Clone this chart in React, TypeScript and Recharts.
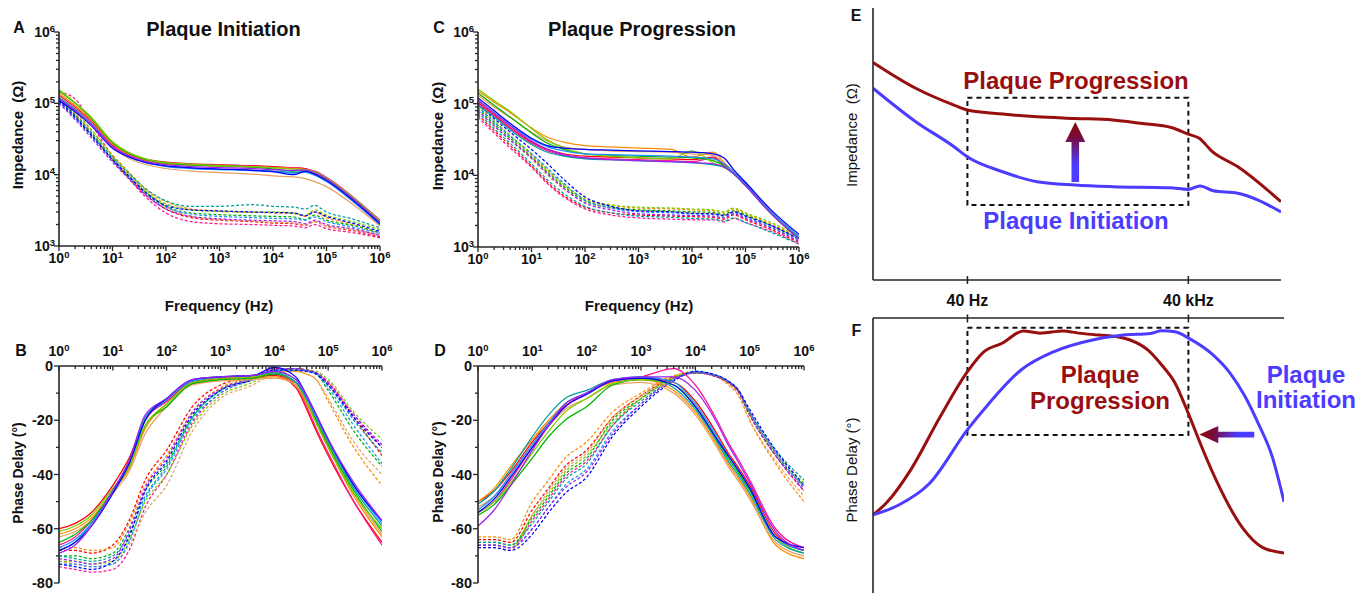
import React from 'react';
import { LineChart, Line, XAxis, YAxis, ReferenceArea, ReferenceLine } from 'recharts';

// ---------- shared ----------
const FREQ = [1, 2, 4, 10, 20, 40, 100, 300, 1000, 4000, 10000, 25000, 40000, 60000, 100000, 300000, 1000000];
const COLORS = ['#ff0000', '#ff1493', '#ff8c00', '#e8a060', '#00b400', '#7acc00', '#00a0a0', '#1e90ff', '#0000ff', '#a020f0'];
const TITLES = ['Plaque Initiation', 'Plaque Progression'];

// ---------- Panel A: impedance, plaque initiation (Ω) ----------
const A_IMP_SOLID = [
  [1.30e5, 8.8e4, 5.6e4, 2.6e4, 1.95e4, 1.65e4, 1.5e4, 1.42e4, 1.38e4, 1.34e4, 1.3e4, 1.25e4, 1.22e4, 1.1e4, 9.0e3, 4.8e3, 2.2e3],
  [1.28e5, 8.7e4, 5.5e4, 2.55e4, 1.9e4, 1.6e4, 1.48e4, 1.4e4, 1.36e4, 1.32e4, 1.28e4, 1.24e4, 1.2e4, 1.12e4, 9.2e3, 5.0e3, 2.3e3],
  [1.40e5, 9.3e4, 5.9e4, 2.7e4, 1.9e4, 1.58e4, 1.42e4, 1.36e4, 1.32e4, 1.28e4, 1.25e4, 1.22e4, 1.18e4, 1.05e4, 8.6e3, 4.5e3, 2.1e3],
  [1.25e5, 8.4e4, 5.3e4, 2.4e4, 1.7e4, 1.4e4, 1.22e4, 1.12e4, 1.07e4, 1.02e4, 9.6e3, 9.3e3, 8.8e3, 8.0e3, 6.8e3, 3.9e3, 1.9e3],
  [1.50e5, 1.0e5, 6.2e4, 2.8e4, 2.0e4, 1.65e4, 1.45e4, 1.37e4, 1.33e4, 1.28e4, 1.2e4, 1.12e4, 1.15e4, 1.08e4, 8.8e3, 4.7e3, 2.15e3],
  [1.55e5, 1.02e5, 6.4e4, 2.9e4, 2.05e4, 1.68e4, 1.48e4, 1.4e4, 1.35e4, 1.3e4, 1.25e4, 1.2e4, 1.18e4, 1.1e4, 9.0e3, 4.9e3, 2.25e3],
  [1.20e5, 8.2e4, 5.2e4, 2.45e4, 1.8e4, 1.5e4, 1.32e4, 1.25e4, 1.2e4, 1.16e4, 1.12e4, 1.08e4, 1.1e4, 1.0e4, 8.2e3, 4.4e3, 2.0e3],
  [1.18e5, 8.0e4, 5.1e4, 2.4e4, 1.78e4, 1.48e4, 1.3e4, 1.22e4, 1.18e4, 1.14e4, 1.1e4, 1.05e4, 1.08e4, 9.8e3, 8.0e3, 4.3e3, 2.0e3],
  [1.10e5, 7.6e4, 4.9e4, 2.35e4, 1.78e4, 1.5e4, 1.33e4, 1.25e4, 1.2e4, 1.15e4, 1.1e4, 1.0e4, 1.12e4, 1.02e4, 8.3e3, 4.5e3, 2.05e3],
  [1.15e5, 7.9e4, 5.0e4, 2.45e4, 1.85e4, 1.55e4, 1.38e4, 1.3e4, 1.26e4, 1.22e4, 1.18e4, 1.15e4, 1.16e4, 1.06e4, 8.7e3, 4.7e3, 2.15e3],
];
const A_IMP_DASHED = [
  [1.15e5, 6.8e4, 3.8e4, 1.6e4, 9.0e3, 5.4e3, 3.3e3, 2.5e3, 2.3e3, 2.2e3, 2.1e3, 2.05e3, 1.95e3, 2.2e3, 1.9e3, 1.65e3, 1.35e3],
  [1.45e5, 1.15e5, 5.2e4, 1.8e4, 9.0e3, 5.0e3, 2.9e3, 2.2e3, 2.05e3, 2.0e3, 1.95e3, 1.9e3, 1.8e3, 2.0e3, 1.75e3, 1.55e3, 1.3e3],
  [1.25e5, 7.5e4, 4.2e4, 1.9e4, 1.1e4, 6.5e3, 4.2e3, 3.3e3, 3.1e3, 3.0e3, 2.9e3, 2.85e3, 2.6e3, 3.0e3, 2.5e3, 2.0e3, 1.5e3],
  [1.2e5, 7.2e4, 4.0e4, 1.75e4, 1.0e4, 6.0e3, 3.6e3, 2.6e3, 2.35e3, 2.25e3, 2.15e3, 2.1e3, 1.95e3, 2.2e3, 1.9e3, 1.7e3, 1.45e3],
  [1.12e5, 6.6e4, 3.7e4, 1.65e4, 9.5e3, 5.8e3, 3.6e3, 2.9e3, 2.75e3, 2.65e3, 2.6e3, 2.55e3, 2.35e3, 2.7e3, 2.3e3, 1.95e3, 1.55e3],
  [1.3e5, 7.8e4, 4.3e4, 1.85e4, 1.05e4, 6.2e3, 3.9e3, 3.2e3, 3.05e3, 2.95e3, 3.0e3, 2.9e3, 2.7e3, 3.2e3, 2.7e3, 2.2e3, 1.7e3],
  [1.18e5, 7.0e4, 3.9e4, 1.75e4, 1.05e4, 6.5e3, 4.3e3, 3.6e3, 3.6e3, 3.8e3, 3.6e3, 3.5e3, 3.3e3, 3.7e3, 3.0e3, 2.4e3, 1.8e3],
  [1.05e5, 6.2e4, 3.5e4, 1.6e4, 9.2e3, 5.6e3, 3.5e3, 2.8e3, 2.6e3, 2.5e3, 2.45e3, 2.4e3, 2.3e3, 2.55e3, 2.2e3, 1.85e3, 1.5e3],
  [1.08e5, 6.4e4, 3.6e4, 1.62e4, 9.6e3, 5.8e3, 3.7e3, 3.2e3, 3.1e3, 3.0e3, 2.95e3, 2.9e3, 2.65e3, 3.0e3, 2.6e3, 2.1e3, 1.6e3],
  [1.0e5, 5.9e4, 3.3e4, 1.5e4, 8.8e3, 5.3e3, 3.3e3, 2.6e3, 2.4e3, 2.3e3, 2.25e3, 2.2e3, 2.05e3, 2.3e3, 2.0e3, 1.75e3, 1.4e3],
];

// ---------- Panel B: phase, plaque initiation (°) ----------
const B_PH_SOLID = [
  [-60, -58, -54, -44, -34, -20, -13, -6, -4.5, -4, -3.5, -8, -16, -24, -33, -50, -65],
  [-66, -63, -57, -46, -36, -20, -13, -6, -4.5, -4, -3, -7, -15, -23, -32, -50, -66],
  [-62, -60, -56, -46, -38, -23, -14, -6.5, -5, -4.5, -4, -7, -14, -21, -30, -48, -63],
  [-63, -61, -57, -47, -39, -25, -15, -7, -5.5, -5, -4.5, -7, -13, -20, -29, -47, -62],
  [-65, -62, -57, -46, -37, -22, -15, -6.5, -5, -4.5, -3, -6, -13, -20, -29, -46, -61],
  [-61, -59, -55, -45, -37, -22, -14, -6, -4.5, -4, -2.5, -6, -13, -21, -30, -47, -60],
  [-68, -65, -58, -46, -35, -19, -12, -5.5, -4, -3.5, -2.5, -6, -12, -19, -28, -45, -59],
  [-67, -64, -58, -46, -36, -20, -12.5, -5.5, -4, -3.5, -2, -5, -12, -19, -27, -44, -58],
  [-68, -65, -59, -47, -36, -20, -12, -5, -4, -3.5, -0.5, -4, -11, -18, -27, -44, -57],
  [-69, -66, -59, -46, -35, -18, -12, -5, -4, -3.5, -2, -5, -11, -18, -27, -43, -57],
];
const B_PH_DASHED = [
  [-68, -68, -69, -66, -57, -42, -31, -15, -7, -4, -1, -1, -1.5, -2.5, -6, -19, -33],
  [-74, -75, -76, -75, -68, -52, -40, -21, -10, -5, -1.5, -1, -1.5, -2.5, -6, -18, -30],
  [-67, -67, -68, -67, -58, -44, -33, -17, -8, -4.5, -2, -2, -3, -5, -13, -30, -44],
  [-72, -73, -74, -73, -66, -54, -44, -24, -12, -7, -2.5, -2, -3, -5, -12, -28, -40],
  [-70, -70, -71, -69, -60, -46, -36, -19, -9, -5, -2, -1.5, -2, -3, -9, -24, -37],
  [-72, -72, -73, -72, -64, -50, -40, -22, -11, -6, -2, -1.5, -1.5, -2, -5, -17, -27],
  [-70, -71, -72, -70, -62, -48, -37, -19, -9, -4.5, -1.5, -1, -1.5, -2.5, -7, -20, -32],
  [-73, -73, -74, -73, -65, -49, -38, -20, -10, -5, -1.5, -1.5, -2, -3, -8, -22, -36],
  [-73, -74, -75, -72, -63, -46, -35, -18, -9, -5, -1.5, -1.5, -2, -3, -7, -19, -30],
  [-71, -72, -73, -71, -61, -45, -34, -17, -8.5, -4.5, -1, -1, -1.5, -2.5, -6.5, -18, -29],
];

// ---------- Panel C: impedance, plaque progression (Ω) ----------
const C_IMP_SOLID = [
  [1.05e5, 7.0e4, 4.6e4, 2.9e4, 2.3e4, 2.0e4, 1.85e4, 1.8e4, 1.75e4, 1.7e4, 1.65e4, 1.8e4, 1.4e4, 1.1e4, 7.4e3, 3.0e3, 1.35e3],
  [1.0e5, 6.8e4, 4.5e4, 2.8e4, 2.2e4, 1.9e4, 1.75e4, 1.7e4, 1.65e4, 1.6e4, 1.55e4, 1.75e4, 1.35e4, 1.08e4, 7.2e3, 2.9e3, 1.3e3],
  [1.5e5, 1.05e5, 7.5e4, 4.6e4, 3.4e4, 2.9e4, 2.6e4, 2.5e4, 2.4e4, 2.3e4, 1.8e4, 2.1e4, 1.5e4, 1.12e4, 7.6e3, 3.1e3, 1.4e3],
  [1.3e5, 9.0e4, 6.4e4, 4.0e4, 3.0e4, 2.5e4, 2.3e4, 2.2e4, 2.15e4, 2.1e4, 2.0e4, 1.9e4, 1.45e4, 1.1e4, 7.5e3, 3.0e3, 1.35e3],
  [1.4e5, 9.5e4, 6.5e4, 3.9e4, 2.8e4, 2.3e4, 2.0e4, 1.9e4, 1.85e4, 1.8e4, 1.75e4, 1.6e4, 1.35e4, 1.05e4, 7.3e3, 3.0e3, 1.35e3],
  [1.6e5, 1.1e5, 7.8e4, 4.5e4, 3.1e4, 2.4e4, 2.0e4, 1.85e4, 1.75e4, 1.7e4, 2.2e4, 1.5e4, 1.3e4, 1.05e4, 7.2e3, 2.95e3, 1.3e3],
  [9.5e4, 6.5e4, 4.3e4, 2.7e4, 2.1e4, 1.85e4, 1.7e4, 1.65e4, 1.6e4, 1.55e4, 1.5e4, 1.4e4, 1.3e4, 1.05e4, 7.2e3, 2.95e3, 1.3e3],
  [1.1e5, 7.5e4, 5.0e4, 3.2e4, 2.5e4, 2.2e4, 2.0e4, 1.95e4, 1.9e4, 1.85e4, 1.8e4, 1.7e4, 1.45e4, 1.12e4, 7.6e3, 3.1e3, 1.4e3],
  [1.2e5, 8.0e4, 5.3e4, 3.3e4, 2.6e4, 2.4e4, 2.3e4, 2.25e4, 2.2e4, 2.15e4, 2.1e4, 2.0e4, 1.75e4, 1.2e4, 8.0e3, 3.3e3, 1.5e3],
  [1.12e5, 7.4e4, 4.9e4, 3.0e4, 2.3e4, 1.95e4, 1.75e4, 1.65e4, 1.6e4, 1.55e4, 1.5e4, 1.45e4, 1.3e4, 1.05e4, 7.2e3, 2.95e3, 1.3e3],
];
const C_IMP_DASHED = [
  [7.0e4, 4.2e4, 2.6e4, 1.35e4, 8.0e3, 5.2e3, 3.6e3, 3.0e3, 2.8e3, 2.7e3, 2.65e3, 2.6e3, 2.45e3, 2.8e3, 2.4e3, 1.75e3, 1.15e3],
  [6.5e4, 3.9e4, 2.4e4, 1.3e4, 7.6e3, 5.0e3, 3.4e3, 2.8e3, 2.55e3, 2.45e3, 2.4e3, 2.4e3, 2.25e3, 2.5e3, 2.2e3, 1.65e3, 1.1e3],
  [9.0e4, 5.6e4, 3.5e4, 1.9e4, 1.15e4, 7.2e3, 4.6e3, 3.8e3, 3.5e3, 3.4e3, 3.3e3, 3.2e3, 3.0e3, 3.4e3, 2.9e3, 2.1e3, 1.35e3],
  [8.0e4, 4.9e4, 3.1e4, 1.7e4, 1.0e4, 6.5e3, 4.2e3, 3.5e3, 3.2e3, 3.1e3, 3.0e3, 2.95e3, 2.8e3, 3.2e3, 2.75e3, 2.0e3, 1.3e3],
  [8.5e4, 5.2e4, 3.3e4, 1.8e4, 1.1e4, 7.0e3, 4.4e3, 3.6e3, 3.3e3, 3.2e3, 3.1e3, 3.05e3, 2.85e3, 3.2e3, 2.8e3, 2.0e3, 1.3e3],
  [9.5e4, 5.8e4, 3.6e4, 2.0e4, 1.2e4, 7.5e3, 4.7e3, 3.9e3, 3.6e3, 3.5e3, 3.4e3, 3.3e3, 3.1e3, 3.5e3, 3.0e3, 2.2e3, 1.4e3],
  [7.5e4, 4.5e4, 2.8e4, 1.45e4, 8.6e3, 5.6e3, 3.7e3, 3.0e3, 2.7e3, 2.6e3, 2.5e3, 2.45e3, 2.3e3, 2.55e3, 2.2e3, 1.6e3, 1.1e3],
  [9.0e4, 5.5e4, 3.5e4, 2.0e4, 1.25e4, 7.8e3, 4.5e3, 3.5e3, 3.1e3, 3.0e3, 2.9e3, 2.85e3, 2.7e3, 3.0e3, 2.6e3, 1.9e3, 1.25e3],
  [1.0e5, 6.2e4, 4.0e4, 2.3e4, 1.45e4, 8.8e3, 5.0e3, 3.7e3, 3.2e3, 3.1e3, 2.95e3, 2.9e3, 2.75e3, 3.1e3, 2.7e3, 2.0e3, 1.3e3],
  [8.0e4, 4.9e4, 3.1e4, 1.75e4, 1.05e4, 6.6e3, 4.1e3, 3.3e3, 2.9e3, 2.8e3, 2.75e3, 2.7e3, 2.55e3, 2.9e3, 2.5e3, 1.85e3, 1.2e3],
];

// ---------- Panel D: phase, plaque progression (°) ----------
const D_PH_SOLID = [
  [-50, -46, -39, -28, -21, -15, -10, -5.5, -4.5, -6, -13, -25, -32, -37, -44, -62, -68],
  [-54, -50, -42, -30, -22, -15, -10, -5.5, -4, -1, -7, -20, -28, -34, -42, -60, -67],
  [-50, -45, -37, -27, -20, -14, -10, -6, -5, -9, -17, -29, -36, -41, -48, -66, -71],
  [-52, -48, -40, -29, -22, -16, -12, -7, -6, -10, -18, -30, -37, -42, -49, -65, -70],
  [-55, -51, -44, -34, -26, -20, -15, -7, -5, -7, -15, -27, -34, -39, -46, -63, -68],
  [-54, -50, -43, -32, -24, -17, -12, -6.5, -5, -7, -15, -27, -33, -38, -45, -63, -69],
  [-51, -46, -38, -26, -18, -12, -9, -5, -4, -8, -16, -28, -35, -40, -47, -64, -69],
  [-53, -48, -40, -29, -21, -14, -10, -5, -4, -6, -14, -26, -33, -38, -45, -63, -68],
  [-54, -49, -41, -30, -22, -15, -10.5, -5.5, -4.5, -7, -15, -27, -33, -38, -45, -63, -67],
  [-59, -53, -44, -31, -22, -14, -10, -5, -4, -4, -9, -21, -29, -35, -43, -61, -68],
];
const D_PH_DASHED = [
  [-64, -64, -65, -53, -45, -37, -31, -19, -11, -4, -2.5, -4, -6, -9, -18, -33, -46],
  [-66, -66, -67, -57, -49, -41, -35, -22, -12, -4.5, -2.5, -4, -6, -9, -17, -32, -45],
  [-63, -63, -64, -50, -42, -34, -28, -17, -10, -3.5, -2.5, -4, -6.5, -10, -20, -36, -50],
  [-67, -67, -68, -55, -46, -38, -32, -19, -11, -4, -2.5, -4, -7, -10.5, -20, -35, -48],
  [-65, -65, -66, -56, -48, -40, -34, -20, -12, -4.5, -2.5, -4, -6, -9, -18, -33, -44],
  [-66, -66, -67, -55, -47, -39, -33, -21, -12, -4, -2, -3.5, -5.5, -8.5, -17, -32, -43],
  [-65, -65, -66, -58, -50, -42, -36, -22, -13, -5, -2.5, -3.5, -5.5, -8.5, -17, -31, -42],
  [-66, -66, -67, -60, -52, -44, -38, -24, -14, -5, -2, -3.5, -5.5, -8.5, -17, -32, -45],
  [-67, -67, -68, -62, -54, -47, -41, -26, -15, -5.5, -2, -3.5, -5.5, -8.5, -16, -31, -44],
  [-66, -66, -67, -60, -52, -45, -39, -25, -14, -5, -2.5, -4, -6, -9, -18, -33, -46],
];

// ---------- Panels E & F: schematic (x = log10 frequency, y = relative units) ----------
const EF_TICKS = [Math.log10(40), Math.log10(40000)];
const EF_TICK_LABELS = ['40 Hz', '40 kHz'];
const E_PROG_X = [0.32, 0.9, 1.42, 1.6, 2.08, 2.55, 3.06, 3.58, 3.95, 4.38, 4.6, 4.75, 4.92, 5.27, 5.86];
const E_PROG_Y = [80.0, 70.5, 64.3, 62.5, 61.0, 60.0, 59.4, 58.8, 57.6, 56.0, 53.6, 52.1, 47.4, 41.7, 28.8];
const E_INIT_X = [0.32, 0.9, 1.42, 1.6, 2.08, 2.55, 3.06, 3.58, 4.35, 4.6, 4.76, 4.94, 5.27, 5.55, 5.86];
const E_INIT_Y = [70.5, 58.2, 49.0, 45.3, 39.8, 36.1, 34.9, 34.3, 33.9, 33.3, 34.6, 32.8, 31.9, 29.4, 25.0];
const F_PROG_X = [0.32, 0.5, 0.83, 1.23, 1.6, 1.82, 2.08, 2.36, 2.59, 2.9, 3.11, 3.39, 3.65, 3.81, 4.05, 4.24, 4.42, 4.61, 4.8, 4.99, 5.34, 5.6, 5.9];
const F_PROG_Y = [28.4, 32.7, 44.7, 64.0, 80.4, 87.6, 90.9, 95.3, 94.5, 95.3, 94.5, 93.8, 93.1, 92.0, 88.4, 82.9, 76.4, 64.7, 52.0, 40.4, 23.6, 16.7, 14.5];
const F_INIT_X = [0.32, 0.67, 1.09, 1.6, 1.84, 2.33, 2.78, 3.3, 3.72, 4.09, 4.24, 4.42, 4.61, 4.94, 5.17, 5.36, 5.55, 5.74, 5.9];
const F_INIT_Y = [28.4, 32.0, 39.9, 59.3, 67.2, 81.1, 87.8, 92.0, 93.8, 94.4, 95.4, 95.0, 92.6, 86.5, 79.9, 72.0, 61.7, 49.6, 33.2];
const E_BOX = { x1: Math.log10(40), x2: Math.log10(40000), y1: 27.6, y2: 67.0 };
const F_BOX = { x1: Math.log10(40), x2: Math.log10(40000), y1: 57.5, y2: 96.5 };
const E_ARROW = [{ x: 3.067, y: 36.0 }, { x: 3.067, y: 58.1 }];
const F_ARROW = [{ x: 5.496, y: 57.6 }, { x: 4.75, y: 57.6 }];

// ---------- styling ----------
const FONT = '"Liberation Sans", Arial, Helvetica, sans-serif';
const AX = '#262626';
const AXIS_LINE = { stroke: AX, strokeWidth: 1.6 };
const DARK_RED = '#980f0f';
const BLUE = '#4b3cff';

const LOG_X_TICKS: number[] = [];
for (let e = 0; e < 6; e++) for (let m = 1; m < 10; m++) LOG_X_TICKS.push(m * Math.pow(10, e));
LOG_X_TICKS.push(1e6);
const LOG_Y_TICKS: number[] = [];
for (let e = 3; e < 6; e++) for (let m = 1; m < 10; m++) LOG_Y_TICKS.push(m * Math.pow(10, e));
LOG_Y_TICKS.push(1e6);
const PHASE_TICKS = [0, -10, -20, -30, -40, -50, -60, -70, -80];

const isDecade = (v: number) => Math.abs(Math.log10(v) - Math.round(Math.log10(v))) < 1e-9;

function buildRows(solid: number[][], dashed: number[][]) {
  return FREQ.map((f, i) => {
    const row: any = { f };
    solid.forEach((s, k) => (row['s' + k] = s[i]));
    dashed.forEach((s, k) => (row['d' + k] = s[i]));
    return row;
  });
}

const Pow = ({ x, y, e, anchor }: any) => (
  <text x={x} y={y} textAnchor={anchor} fontFamily={FONT} fontWeight="bold" fontSize={14} fill="#111">
    10<tspan dy={-5.5} fontSize={9.5}>{e}</tspan>
  </text>
);

const LogBottomTick = (p: any) => {
  const { x, y, payload } = p;
  const v = payload.value;
  const major = isDecade(v);
  return (
    <g>
      <line x1={x} x2={x} y1={y} y2={y + (major ? 5 : 3)} stroke={AX} strokeWidth={1.3} />
      {major && <Pow x={x} y={y + 17} e={Math.round(Math.log10(v))} anchor="middle" />}
    </g>
  );
};

const LogTopTick = (p: any) => {
  const { x, y, payload } = p;
  const v = payload.value;
  const major = isDecade(v);
  return (
    <g>
      <line x1={x} x2={x} y1={y} y2={y + (major ? 4.5 : 3)} stroke={AX} strokeWidth={1.3} />
      {major && <Pow x={x} y={y - 10} e={Math.round(Math.log10(v))} anchor="middle" />}
    </g>
  );
};

const LogLeftTick = (p: any) => {
  const { x, y, payload } = p;
  const v = payload.value;
  const major = isDecade(v);
  return (
    <g>
      <line x1={x - (major ? 5 : 3)} x2={x} y1={y} y2={y} stroke={AX} strokeWidth={1.3} />
      {major && <Pow x={x - 4} y={y + 5} e={Math.round(Math.log10(v))} anchor="end" />}
    </g>
  );
};

const PhaseLeftTick = (p: any) => {
  const { x, y, payload } = p;
  const v = payload.value;
  const major = v % 20 === 0;
  return (
    <g>
      <line x1={x - (major ? 5 : 3)} x2={x} y1={y} y2={y} stroke={AX} strokeWidth={1.3} />
      {major && (
        <text x={x - 6} y={y + 5.2} textAnchor="end" fontFamily={FONT} fontWeight="bold" fontSize={14.5} fill="#111">
          {String(v)}
        </text>
      )}
    </g>
  );
};

const EBottomTick = (p: any) => {
  const { x, y, index } = p;
  return (
    <g>
      <line x1={x} x2={x} y1={y - 4} y2={y + 4} stroke={AX} strokeWidth={1.6} />
      <text x={x} y={y + 20} textAnchor="middle" dominantBaseline="central" fontFamily={FONT} fontWeight="bold" fontSize={16} fill="#111">
        {EF_TICK_LABELS[index]}
      </text>
    </g>
  );
};

const FTopTick = (p: any) => {
  const { x, y } = p;
  return <line x1={x} x2={x} y1={y - 3.5} y2={y + 4.5} stroke={AX} strokeWidth={1.6} />;
};

function makeArrow(id: string, headLen: number, headHalf: number, shaftHalf: number) {
  return (p: any) => {
    const { x1, y1, x2, y2 } = p;
    const dx = x2 - x1;
    const dy = y2 - y1;
    const len = Math.hypot(dx, dy) || 1;
    const ux = dx / len;
    const uy = dy / len;
    const nx = -uy;
    const ny = ux;
    const bx = x2 - ux * headLen;
    const by = y2 - uy * headLen;
    const pts = [
      [x1 + nx * shaftHalf, y1 + ny * shaftHalf],
      [bx + nx * shaftHalf, by + ny * shaftHalf],
      [bx + nx * headHalf, by + ny * headHalf],
      [x2, y2],
      [bx - nx * headHalf, by - ny * headHalf],
      [bx - nx * shaftHalf, by - ny * shaftHalf],
      [x1 - nx * shaftHalf, y1 - ny * shaftHalf],
    ];
    return (
      <g>
        <defs>
          <linearGradient id={id} gradientUnits="userSpaceOnUse" x1={x1} y1={y1} x2={x2} y2={y2}>
            <stop offset="0" stopColor={BLUE} />
            <stop offset="0.3" stopColor={BLUE} />
            <stop offset="0.75" stopColor="#7a0a3a" />
            <stop offset="1" stopColor="#8b0a0a" />
          </linearGradient>
        </defs>
        <polygon points={pts.map((q) => q.join(',')).join(' ')} fill={`url(#${id})`} />
      </g>
    );
  };
}

const lineSet = (solid: number[][], dashed: number[][]) => [
  ...dashed.map((_, k) => (
    <Line key={'d' + k} dataKey={'d' + k} stroke={COLORS[k]} strokeWidth={1.25} strokeDasharray="3 2" dot={false} activeDot={false} isAnimationActive={false} type="monotone" />
  )),
  ...solid.map((_, k) => (
    <Line key={'s' + k} dataKey={'s' + k} stroke={COLORS[k]} strokeWidth={1.25} dot={false} activeDot={false} isAnimationActive={false} type="monotone" />
  )),
];

const ImpChart = ({ left, width, yw, mr, plotBottom, solid, dashed }: any) => (
  <div style={{ position: 'absolute', left, top: 0 }}>
    <LineChart width={width} height={300} data={buildRows(solid, dashed)} margin={{ top: 32, right: mr, bottom: 0, left: 0 }}>
      <XAxis dataKey="f" type="number" scale="log" domain={[1, 1e6]} allowDataOverflow ticks={LOG_X_TICKS} interval={0} tickSize={0} tickMargin={0} tickLine={false} tick={LogBottomTick} axisLine={AXIS_LINE} height={300 - plotBottom} />
      <YAxis type="number" scale="log" domain={[1e3, 1e6]} allowDataOverflow ticks={LOG_Y_TICKS} interval={0} tickSize={0} tickMargin={0} tickLine={false} tick={LogLeftTick} axisLine={AXIS_LINE} width={yw} />
      {lineSet(solid, dashed)}
    </LineChart>
  </div>
);

const PhaseChart = ({ left, width, yw, mr, solid, dashed }: any) => (
  <div style={{ position: 'absolute', left, top: 320 }}>
    <LineChart width={width} height={273} data={buildRows(solid, dashed)} margin={{ top: 0, right: mr, bottom: 10, left: 0 }}>
      <XAxis orientation="top" dataKey="f" type="number" scale="log" domain={[1, 1e6]} allowDataOverflow ticks={LOG_X_TICKS} interval={0} tickSize={0} tickMargin={0} tickLine={false} tick={LogTopTick} axisLine={AXIS_LINE} height={46} />
      <YAxis type="number" domain={[-80, 0]} allowDataOverflow ticks={PHASE_TICKS} interval={0} tickSize={0} tickMargin={0} tickLine={false} tick={PhaseLeftTick} axisLine={AXIS_LINE} width={yw} />
      {lineSet(solid, dashed)}
    </LineChart>
  </div>
);

const toPts = (xs: number[], ys: number[]) => xs.map((x, i) => ({ x, v: ys[i] }));

const T = ({ x, y, children, size = 15, weight = 'bold', color = '#111', rotate = false }: any) => (
  <text
    x={x}
    y={y}
    textAnchor="middle"
    dominantBaseline="central"
    fontFamily={FONT}
    fontWeight={weight}
    fontSize={size}
    fill={color}
    style={{ whiteSpace: 'pre' }}
    transform={rotate ? `rotate(-90 ${x} ${y})` : undefined}
  >
    {children}
  </text>
);

export default function App() {
  return (
    <div style={{ position: 'absolute', left: 0, top: 0, width: 1371, height: 593, background: '#fff', overflow: 'hidden' }}>
      <svg width={1371} height={593} style={{ position: 'absolute', left: 0, top: 0 }}>
        <T x={19} y={27} size={16}>A</T>
        <T x={439} y={27} size={16}>C</T>
        <T x={21} y={350.5} size={16}>B</T>
        <T x={440} y={350.5} size={16}>D</T>
        <T x={856} y={15} size={16}>E</T>
        <T x={856.5} y={330} size={16}>F</T>
        <T x={223.5} y={29} size={20}>{TITLES[0]}</T>
        <T x={642} y={29} size={20}>{TITLES[1]}</T>
        <T x={17.5} y={135} rotate>{'Impedance  (Ω)'}</T>
        <T x={437.5} y={136} rotate>{'Impedance  (Ω)'}</T>
        <T x={18} y={473} size={14} rotate>Phase Delay (°)</T>
        <T x={437.5} y={472} size={14} rotate>Phase Delay (°)</T>
        <T x={219} y={305}>Frequency (Hz)</T>
        <T x={639} y={305}>Frequency (Hz)</T>
        <T x={851.5} y={135} weight="normal" rotate>{'Impedance  (Ω)'}</T>
        <T x={851.5} y={470} weight="normal" rotate>Phase Delay (°)</T>
        <T x={1076} y={80.5} size={24} color={DARK_RED}>{TITLES[1]}</T>
        <T x={1076} y={220.5} size={24} color={BLUE}>{TITLES[0]}</T>
        <T x={1100} y={374} size={24} color={DARK_RED}>Plaque</T>
        <T x={1100} y={400} size={24} color={DARK_RED}>Progression</T>
        <T x={1306} y={374} size={24} color={BLUE}>Plaque</T>
        <T x={1306} y={399} size={24} color={BLUE}>Initiation</T>
      </svg>

      <ImpChart left={0} width={400} yw={59} mr={20} plotBottom={246} solid={A_IMP_SOLID} dashed={A_IMP_DASHED} />
      <ImpChart left={400} width={420} yw={78} mr={21} plotBottom={247} solid={C_IMP_SOLID} dashed={C_IMP_DASHED} />
      <PhaseChart left={0} width={400} yw={59} mr={18} solid={B_PH_SOLID} dashed={B_PH_DASHED} />
      <PhaseChart left={400} width={420} yw={78} mr={16} solid={D_PH_SOLID} dashed={D_PH_DASHED} />

      <div style={{ position: 'absolute', left: 830, top: 0 }}>
        <LineChart width={460} height={320} margin={{ top: 8, right: 9, bottom: 0, left: 0 }}>
          <XAxis dataKey="x" type="number" domain={[0.32, 5.86]} allowDataOverflow ticks={EF_TICKS} interval={0} tickSize={0} tickMargin={0} tickLine={false} tick={EBottomTick} axisLine={AXIS_LINE} height={40} />
          <YAxis type="number" domain={[0, 100]} allowDataOverflow width={43} tick={false} tickLine={false} axisLine={AXIS_LINE} />
          <ReferenceArea x1={E_BOX.x1} x2={E_BOX.x2} y1={E_BOX.y1} y2={E_BOX.y2} fill="none" fillOpacity={0} stroke="#111" strokeWidth={2} strokeDasharray="5 4" />
          <Line data={toPts(E_PROG_X, E_PROG_Y)} dataKey="v" stroke={DARK_RED} strokeWidth={3} dot={false} activeDot={false} isAnimationActive={false} type="monotone" />
          <Line data={toPts(E_INIT_X, E_INIT_Y)} dataKey="v" stroke={BLUE} strokeWidth={3} dot={false} activeDot={false} isAnimationActive={false} type="monotone" />
          <ReferenceLine segment={E_ARROW} shape={makeArrow('gradE', 20, 10, 3.8)} />
        </LineChart>
      </div>

      <div style={{ position: 'absolute', left: 830, top: 300 }}>
        <LineChart width={460} height={293} margin={{ top: 0, right: 6, bottom: 0, left: 0 }}>
          <XAxis orientation="top" dataKey="x" type="number" domain={[0.32, 5.9]} allowDataOverflow ticks={EF_TICKS} interval={0} tickSize={0} tickMargin={0} tickLine={false} tick={FTopTick} axisLine={AXIS_LINE} height={18} />
          <YAxis type="number" domain={[0, 100]} allowDataOverflow width={43} tick={false} tickLine={false} axisLine={AXIS_LINE} />
          <ReferenceArea x1={F_BOX.x1} x2={F_BOX.x2} y1={F_BOX.y1} y2={F_BOX.y2} fill="none" fillOpacity={0} stroke="#111" strokeWidth={2} strokeDasharray="5 4" />
          <Line data={toPts(F_PROG_X, F_PROG_Y)} dataKey="v" stroke={DARK_RED} strokeWidth={3} dot={false} activeDot={false} isAnimationActive={false} type="monotone" />
          <Line data={toPts(F_INIT_X, F_INIT_Y)} dataKey="v" stroke={BLUE} strokeWidth={3} dot={false} activeDot={false} isAnimationActive={false} type="monotone" />
          <ReferenceLine segment={F_ARROW} shape={makeArrow('gradF', 19, 8.7, 2.9)} />
        </LineChart>
      </div>
    </div>
  );
}
